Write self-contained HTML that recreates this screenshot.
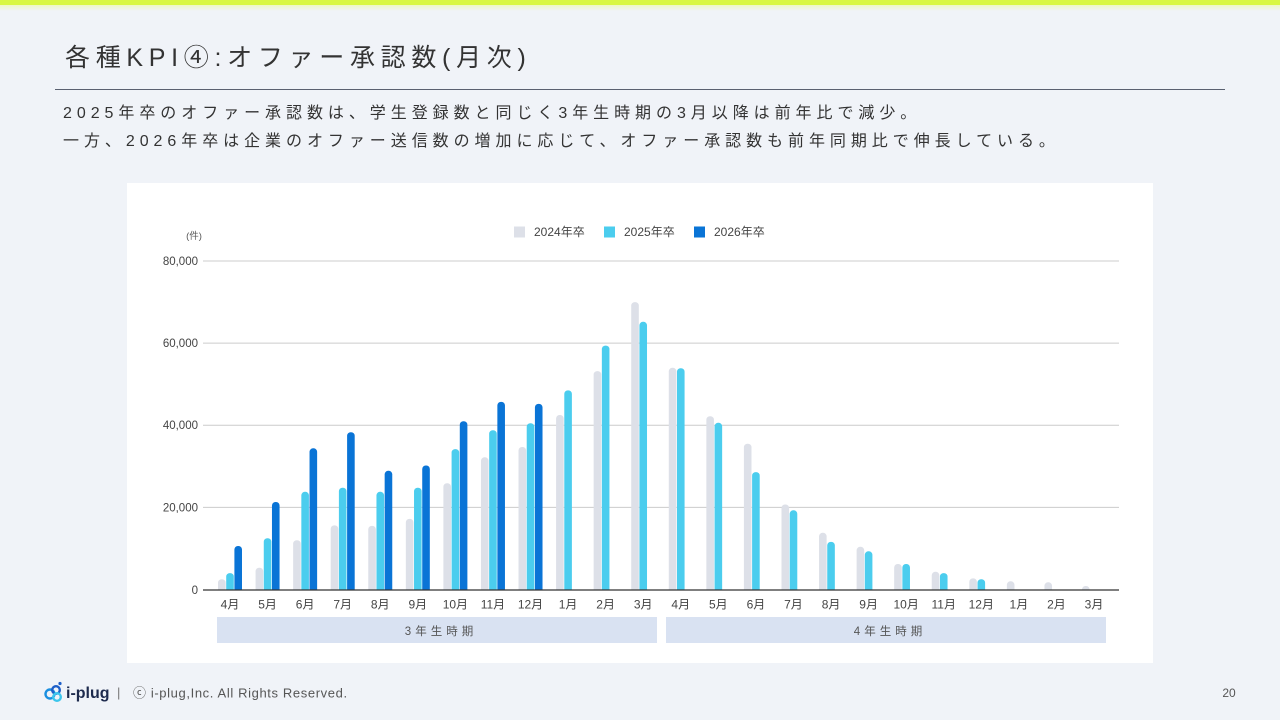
<!DOCTYPE html>
<html><head><meta charset="utf-8">
<style>
html,body{margin:0;padding:0;}
body{width:1280px;height:720px;position:relative;overflow:hidden;background:#f0f3f8;font-family:"Liberation Sans","Noto Sans CJK JP",sans-serif;color:#333;}
.topbar{position:absolute;left:0;top:0;width:1280px;height:5px;background:#d9f743;}
.topfade{position:absolute;left:0;top:5px;width:1280px;height:6px;background:linear-gradient(#eef8c4,#f0f3f8);}
.title{position:absolute;left:65px;top:43px;font-size:25px;line-height:30px;letter-spacing:5.7px;color:#333;white-space:nowrap;}
.rule{position:absolute;left:55px;top:89px;width:1170px;height:1px;background:#5a6070;}
.sub{position:absolute;left:63px;font-size:16px;line-height:22px;letter-spacing:4.95px;color:#333;white-space:nowrap;}
.card{position:absolute;left:127px;top:183px;width:1026px;height:480px;background:#fff;}
svg{position:absolute;left:0;top:0;}
</style></head><body>
<div class="topbar"></div><div class="topfade"></div>
<div class="title">各種KPI④:オファー承認数(月次)</div>
<div class="rule"></div>
<div class="sub" style="top:103px">2025年卒のオファー承認数は、学生登録数と同じく3年生時期の3月以降は前年比で減少。</div>
<div class="sub" style="top:131px">一方、2026年卒は企業のオファー送信数の増加に応じて、オファー承認数も前年同期比で伸長している。</div>
<div class="card"></div>
<svg width="1280" height="720" viewBox="0 0 1280 720" font-family="Liberation Sans, Noto Sans CJK JP, sans-serif">
<defs><clipPath id="pc"><rect x="200" y="200" width="930" height="390"/></clipPath></defs>
<!-- legend -->
<rect x="514" y="226.5" width="11" height="11" fill="#dde0e8"/>
<text x="534" y="236" font-size="12" fill="#444">2024年卒</text>
<rect x="604" y="226.5" width="11" height="11" fill="#4bcdee"/>
<text x="624" y="236" font-size="12" fill="#444">2025年卒</text>
<rect x="694" y="226.5" width="11" height="11" fill="#0a74d6"/>
<text x="714" y="236" font-size="12" fill="#444">2026年卒</text>
<text x="194" y="239" font-size="9.5" fill="#555" text-anchor="middle">(件)</text>
<!-- grid -->
<g stroke="#cccccc" stroke-width="1">
<line x1="203" y1="261" x2="1119" y2="261"/>
<line x1="203" y1="343.1" x2="1119" y2="343.1"/>
<line x1="203" y1="425.3" x2="1119" y2="425.3"/>
<line x1="203" y1="507.4" x2="1119" y2="507.4"/>
</g>
<g font-size="11.5" fill="#444" text-anchor="end">
<text x="198" y="265">80,000</text>
<text x="198" y="347">60,000</text>
<text x="198" y="429">40,000</text>
<text x="198" y="511.5">20,000</text>
<text x="198" y="594">0</text>
</g>
<!-- bars -->
<g clip-path="url(#pc)">
<g fill="#dde0e8">
<rect x="218.0" y="579.2" width="7.6" height="20" rx="3.5"/>
<rect x="255.57" y="567.7" width="7.6" height="30" rx="3.5"/>
<rect x="293.13" y="540.2" width="7.6" height="60" rx="3.5"/>
<rect x="330.70" y="525.4" width="7.6" height="70" rx="3.5"/>
<rect x="368.26" y="525.9" width="7.6" height="70" rx="3.5"/>
<rect x="405.83" y="518.9" width="7.6" height="80" rx="3.5"/>
<rect x="443.39" y="483.2" width="7.6" height="110" rx="3.5"/>
<rect x="480.96" y="457.3" width="7.6" height="140" rx="3.5"/>
<rect x="518.52" y="447.0" width="7.6" height="150" rx="3.5"/>
<rect x="556.09" y="415.0" width="7.6" height="180" rx="3.5"/>
<rect x="593.65" y="371.1" width="7.6" height="225" rx="3.5"/>
<rect x="631.22" y="302.1" width="7.6" height="295" rx="3.5"/>
<rect x="668.78" y="367.8" width="7.6" height="230" rx="3.5"/>
<rect x="706.35" y="416.2" width="7.6" height="180" rx="3.5"/>
<rect x="743.91" y="443.7" width="7.6" height="150" rx="3.5"/>
<rect x="781.48" y="504.5" width="7.6" height="90" rx="3.5"/>
<rect x="819.04" y="532.8" width="7.6" height="60" rx="3.5"/>
<rect x="856.61" y="546.8" width="7.6" height="50" rx="3.5"/>
<rect x="894.17" y="564.0" width="7.6" height="30" rx="3.5"/>
<rect x="931.74" y="571.8" width="7.6" height="25" rx="3.5"/>
<rect x="969.30" y="578.4" width="7.6" height="20" rx="3.5"/>
<rect x="1006.87" y="581.3" width="7.6" height="20" rx="3.5"/>
<rect x="1044.43" y="582.3" width="7.6" height="20" rx="3.5"/>
<rect x="1082.0" y="586.0" width="7.6" height="20" rx="3.5"/>
</g>
<g fill="#4bcdee">
<rect x="226.2" y="573.1" width="7.6" height="25" rx="3.5"/>
<rect x="263.77" y="538.2" width="7.6" height="60" rx="3.5"/>
<rect x="301.33" y="491.8" width="7.6" height="105" rx="3.5"/>
<rect x="338.90" y="487.7" width="7.6" height="110" rx="3.5"/>
<rect x="376.46" y="491.8" width="7.6" height="105" rx="3.5"/>
<rect x="414.03" y="487.7" width="7.6" height="110" rx="3.5"/>
<rect x="451.59" y="449.1" width="7.6" height="150" rx="3.5"/>
<rect x="489.16" y="430.2" width="7.6" height="170" rx="3.5"/>
<rect x="526.72" y="423.2" width="7.6" height="175" rx="3.5"/>
<rect x="564.29" y="390.4" width="7.6" height="205" rx="3.5"/>
<rect x="601.85" y="345.6" width="7.6" height="250" rx="3.5"/>
<rect x="639.42" y="321.8" width="7.6" height="275" rx="3.5"/>
<rect x="676.98" y="368.2" width="7.6" height="230" rx="3.5"/>
<rect x="714.55" y="422.8" width="7.6" height="175" rx="3.5"/>
<rect x="752.11" y="472.1" width="7.6" height="125" rx="3.5"/>
<rect x="789.68" y="510.3" width="7.6" height="85" rx="3.5"/>
<rect x="827.24" y="541.9" width="7.6" height="55" rx="3.5"/>
<rect x="864.81" y="551.3" width="7.6" height="45" rx="3.5"/>
<rect x="902.37" y="564.0" width="7.6" height="30" rx="3.5"/>
<rect x="939.94" y="573.1" width="7.6" height="25" rx="3.5"/>
<rect x="977.50" y="579.2" width="7.6" height="20" rx="3.5"/>
</g>
<g fill="#0a74d6">
<rect x="234.4" y="546.0" width="7.6" height="50" rx="3.5"/>
<rect x="271.97" y="502.0" width="7.6" height="95" rx="3.5"/>
<rect x="309.53" y="448.3" width="7.6" height="150" rx="3.5"/>
<rect x="347.10" y="432.2" width="7.6" height="165" rx="3.5"/>
<rect x="384.66" y="470.8" width="7.6" height="125" rx="3.5"/>
<rect x="422.23" y="465.5" width="7.6" height="130" rx="3.5"/>
<rect x="459.79" y="421.2" width="7.6" height="175" rx="3.5"/>
<rect x="497.36" y="401.9" width="7.6" height="195" rx="3.5"/>
<rect x="534.92" y="403.9" width="7.6" height="195" rx="3.5"/>
</g>
</g>
<line x1="203" y1="590" x2="1119" y2="590" stroke="#333" stroke-width="1.2"/>
<!-- x labels -->
<g font-size="12" fill="#444" text-anchor="middle">
<text x="230.0" y="608.5">4月</text>
<text x="267.57" y="608.5">5月</text>
<text x="305.13" y="608.5">6月</text>
<text x="342.70" y="608.5">7月</text>
<text x="380.26" y="608.5">8月</text>
<text x="417.83" y="608.5">9月</text>
<text x="455.39" y="608.5">10月</text>
<text x="492.96" y="608.5">11月</text>
<text x="530.52" y="608.5">12月</text>
<text x="568.09" y="608.5">1月</text>
<text x="605.65" y="608.5">2月</text>
<text x="643.22" y="608.5">3月</text>
<text x="680.78" y="608.5">4月</text>
<text x="718.35" y="608.5">5月</text>
<text x="755.91" y="608.5">6月</text>
<text x="793.48" y="608.5">7月</text>
<text x="831.04" y="608.5">8月</text>
<text x="868.61" y="608.5">9月</text>
<text x="906.17" y="608.5">10月</text>
<text x="943.74" y="608.5">11月</text>
<text x="981.30" y="608.5">12月</text>
<text x="1018.87" y="608.5">1月</text>
<text x="1056.43" y="608.5">2月</text>
<text x="1094.0" y="608.5">3月</text>
</g>
<!-- period bands -->
<rect x="217" y="617" width="440" height="26" fill="#d9e2f2"/>
<rect x="666" y="617" width="440" height="26" fill="#d9e2f2"/>
<text x="441" y="635" font-size="11.5" fill="#555" text-anchor="middle" letter-spacing="4">3年生時期</text>
<text x="890" y="635" font-size="11.5" fill="#555" text-anchor="middle" letter-spacing="4">4年生時期</text>
<!-- footer logo -->
<g>
<circle cx="50" cy="694" r="4.5" fill="none" stroke="#1a8fe0" stroke-width="2.4"/>
<circle cx="56" cy="690" r="3.8" fill="none" stroke="#1d5fc8" stroke-width="2.4"/>
<circle cx="57" cy="697" r="3.8" fill="none" stroke="#3cc6ec" stroke-width="2.4"/>
<circle cx="60" cy="683.5" r="1.6" fill="#1d5fc8"/>
<text x="66" y="698" font-size="16" font-weight="bold" fill="#1d2a4d">i-plug</text>
</g>
<text x="117" y="697" font-size="13" fill="#777">|</text>
<text x="133" y="697.5" font-size="13" fill="#555" letter-spacing="0.62">ⓒ i-plug,Inc. All Rights Reserved.</text>
<text x="1229" y="697" font-size="12" fill="#555" text-anchor="middle">20</text>
</svg>
</body></html>
